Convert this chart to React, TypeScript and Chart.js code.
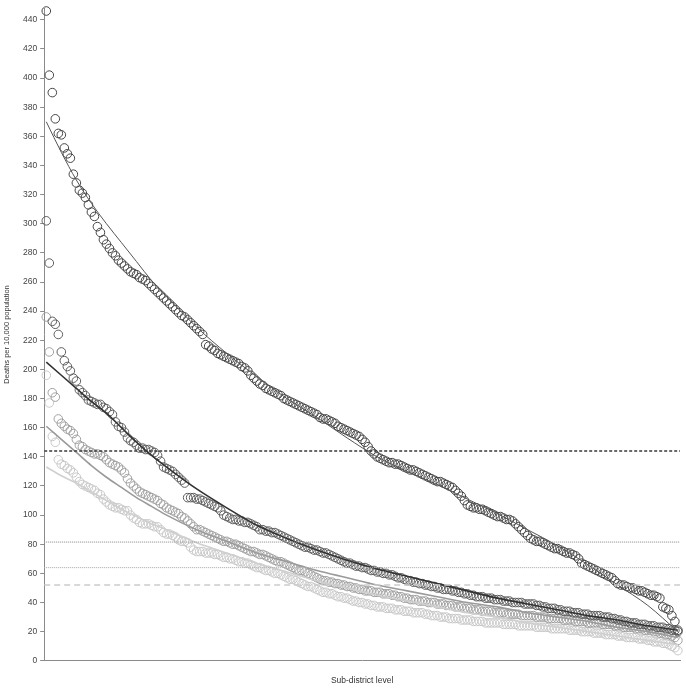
import React, { useEffect, useRef } from "react";
import { Chart, registerables } from "chart.js";
Chart.register(...registerables);

// Sub-district values, sorted descending, one value per sub-district (index = rank)
const seriesA = [
  446,402,390,372,362,361,352,348,345,334,
  328,323,321,318,313,308,305,298,294,289,
  286,283,280,278,275,273,271,269,267,266,
  265,263,262,261,259,257,255,253,251,249,
  247,245,243,241,239,237,236,234,232,230,
  228,226,224,217,216,214,213,211,210,209,
  208,207,206,205,204,202,201,199,196,194,
  192,190,189,187,186,185,184,183,182,180,
  179,178,177,176,175,174,173,172,171,170,
  169,167,166,166,165,164,163,161,160,159,
  158,157,156,155,154,152,150,147,144,142,
  140,139,138,137,136,136,135,135,134,133,
  132,131,131,130,129,128,127,126,125,124,
  123,123,122,121,120,119,117,115,113,110,
  107,106,105,105,104,104,103,102,101,100,
  99,99,98,97,97,96,94,92,90,88,
  86,84,83,82,82,81,80,79,78,77,
  77,76,75,74,74,73,72,70,67,66,
  65,64,63,62,61,60,59,58,57,55,
  53,52,52,51,50,50,49,48,48,47,
  46,45,45,44,43,37,36,35,31,27,21
];
const seriesB = [
  302,273,233,231,224,212,206,202,199,194,
  192,186,184,182,179,178,177,176,176,174,
  173,171,169,164,161,160,157,153,151,150,
  148,146,146,145,145,144,143,141,137,133,
  132,131,130,128,126,124,122,112,112,112,
  111,111,110,109,108,107,106,105,103,100,
  99,98,97,97,96,96,95,95,94,93,
  92,90,90,89,89,88,88,87,86,85,
  84,83,82,81,80,79,78,78,77,76,
  76,75,74,74,73,72,71,70,69,68,
  67,67,66,65,65,64,64,63,62,62,
  61,61,60,60,59,59,58,57,57,56,
  55,55,54,54,53,53,52,52,51,51,
  50,50,49,49,49,48,48,47,47,46,
  46,45,45,44,44,44,43,43,43,42,
  42,42,41,41,41,40,40,40,40,39,
  39,39,39,38,38,37,37,36,36,36,
  35,35,34,34,34,33,33,33,32,32,
  32,31,31,31,31,30,30,30,29,29,
  28,28,27,27,26,26,26,25,25,25,
  24,24,24,23,23,23,22,22,21,21,20
];
const seriesC = [
  236,212,184,181,166,163,161,159,158,156,
  152,148,147,145,144,143,142,142,141,140,
  138,136,135,134,133,131,129,125,122,120,
  118,116,115,114,113,112,111,110,108,107,
  105,104,103,102,101,99,98,96,94,92,
  90,90,89,88,87,86,85,84,83,82,
  82,81,80,80,79,78,77,76,75,75,
  74,73,73,72,71,70,69,68,68,67,
  66,65,64,63,62,62,61,60,59,58,
  57,56,55,55,54,54,53,53,52,52,
  51,51,50,50,49,49,48,48,48,47,
  47,47,46,46,46,45,45,44,44,43,
  43,42,42,42,41,41,41,40,40,40,
  39,39,39,38,38,38,37,37,37,36,
  36,36,35,35,35,34,34,34,34,33,
  33,33,33,32,32,32,32,32,31,31,
  31,31,31,30,30,30,30,29,29,29,
  29,29,28,28,28,28,27,27,27,27,
  26,26,26,26,26,25,25,25,25,24,
  24,24,23,23,23,23,22,22,22,21,
  21,21,20,20,19,19,18,18,17,16,14
];
const seriesD = [
  196,177,154,150,138,135,134,132,131,129,
  126,123,121,120,119,118,117,115,114,111,
  109,107,106,105,105,104,103,103,100,98,
  97,95,94,94,94,93,92,92,90,88,
  87,87,86,85,83,82,82,81,78,76,
  75,75,75,74,74,74,73,73,72,71,
  71,70,70,69,68,68,67,67,66,65,
  64,64,63,62,62,61,60,60,59,58,
  57,56,56,55,54,53,52,51,51,50,
  49,48,47,47,46,46,45,44,44,43,
  43,42,41,41,40,40,39,39,38,38,
  37,37,37,36,36,36,35,35,35,34,
  34,34,33,33,33,33,32,32,31,31,
  31,30,30,30,29,29,29,29,28,28,
  28,28,27,27,27,27,26,26,26,26,
  26,26,25,25,25,25,25,24,24,24,
  24,24,24,23,23,23,23,23,22,22,
  22,22,22,22,21,21,21,21,20,20,
  20,20,19,19,19,19,18,18,18,18,
  17,17,17,16,16,16,16,15,15,15,
  14,14,13,13,13,12,12,11,10,9,7
];

// Trend lines (read at these ranks)
const trendX = [0,5,10,15,20,25,30,35,40,50,60,70,80,90,100,110,120,130,140,150,160,170,180,190,200,210];
const trendA = [370,349,330,314,300,287,274,261,250,229,211,195,180,167,153,140,130,121,111,101,90,79,66,52,38,20];
const trendB = [205,196,187,178,170,160,150,141,133,118,105,93,84,76,69,63,58,53,48,43,39,35,31,28,24,21];
const trendC = [161,152,143,134,126,119,112,106,100,90,82,74,68,62,57,52,48,44,40,37,33,30,27,23,20,16];
const trendD = [133,127,122,116,110,104,99,94,90,81,74,67,61,55,50,45,41,37,33,30,26,23,20,17,14,11];

// Horizontal reference levels
const refLevels = [144, 81.5, 64, 52];

const X_MIN = -0.7;
const X_MAX = 210.7;
const FONT = "'Liberation Sans', Arial, sans-serif";

export default function App() {
  const ref = useRef<HTMLCanvasElement | null>(null);
  useEffect(() => {
    document.body.style.margin = "0";
    const toPts = (arr: number[]) => arr.map((v, i) => ({ x: i, y: v }));
    const toTrend = (arr: number[]) => arr.map((v, i) => ({ x: trendX[i], y: v }));
    const refLine = (v: number) => [{ x: X_MIN, y: v }, { x: X_MAX, y: v }];
    const scat = (arr: number[], color: string) => ({
      type: "scatter" as const,
      data: toPts(arr),
      borderColor: color,
      backgroundColor: "rgba(0,0,0,0)",
      pointRadius: 4.3,
      pointBorderWidth: 1,
      showLine: false,
      clip: false as any,
    });
    const line = (data: any[], color: string, width: number, dash: number[] = [], smooth = true) => ({
      type: "line" as const,
      data,
      borderColor: color,
      backgroundColor: color,
      borderWidth: width,
      borderDash: dash,
      pointRadius: 0,
      fill: false,
      cubicInterpolationMode: smooth ? ("monotone" as const) : ("default" as const),
      tension: 0,
    });
    const chart = new Chart(ref.current!, {
      type: "scatter",
      data: {
        datasets: [
          line(refLine(refLevels[0]), "#3a3a3a", 1.6, [3, 2], false),
          line(refLine(refLevels[1]), "#999999", 1.2, [1, 1], false),
          line(refLine(refLevels[2]), "#b0b0b0", 1.2, [1, 1], false),
          line(refLine(refLevels[3]), "#cccccc", 1.6, [6, 4], false),
          line(toTrend(trendA), "#555555", 1),
          line(toTrend(trendB), "#333333", 1.6),
          line(toTrend(trendC), "#9a9a9a", 1.6),
          line(toTrend(trendD), "#cfcfcf", 1.6),
          scat(seriesA, "#454545"),
          scat(seriesB, "#5e5e5e"),
          scat(seriesC, "#a0a0a0"),
          scat(seriesD, "#c8c8c8"),
        ] as any,
      },
      options: {
        animation: false,
        responsive: true,
        maintainAspectRatio: false,
        events: [],
        layout: { padding: { left: 2, right: 6, top: 0, bottom: 0 } },
        plugins: { legend: { display: false }, tooltip: { enabled: false } },
        scales: {
          x: {
            type: "linear",
            min: X_MIN,
            max: X_MAX,
            grid: { display: false, drawTicks: false },
            ticks: { display: false },
            border: { display: true, color: "#8a8a8a", width: 1 },
            title: {
              display: true,
              text: "Sub-district level",
              color: "#333",
              font: { family: FONT, size: 8.5 },
              padding: { top: 15, bottom: 6 },
            },
          },
          y: {
            type: "linear",
            min: 0,
            max: 448,
            afterBuildTicks: (scale: any) => {
              scale.ticks = scale.ticks.filter((t: any) => t.value % 20 === 0);
            },
            ticks: {
              stepSize: 20,
              color: "#444",
              padding: 3,
              font: { family: FONT, size: 8.5 },
            },
            grid: {
              display: true,
              drawOnChartArea: false,
              drawTicks: true,
              tickLength: 4,
              color: "#8a8a8a",
            },
            border: { display: true, color: "#8a8a8a", width: 1 },
            title: {
              display: true,
              text: "Deaths per 10,000 population",
              color: "#333",
              font: { family: FONT, size: 7.5 },
              padding: { top: 0, bottom: 9 },
            },
          },
        },
      },
    });
    return () => chart.destroy();
  }, []);
  return (
    <div style={{ width: 686, height: 692, position: "relative" }}>
      <canvas ref={ref} />
    </div>
  );
}
